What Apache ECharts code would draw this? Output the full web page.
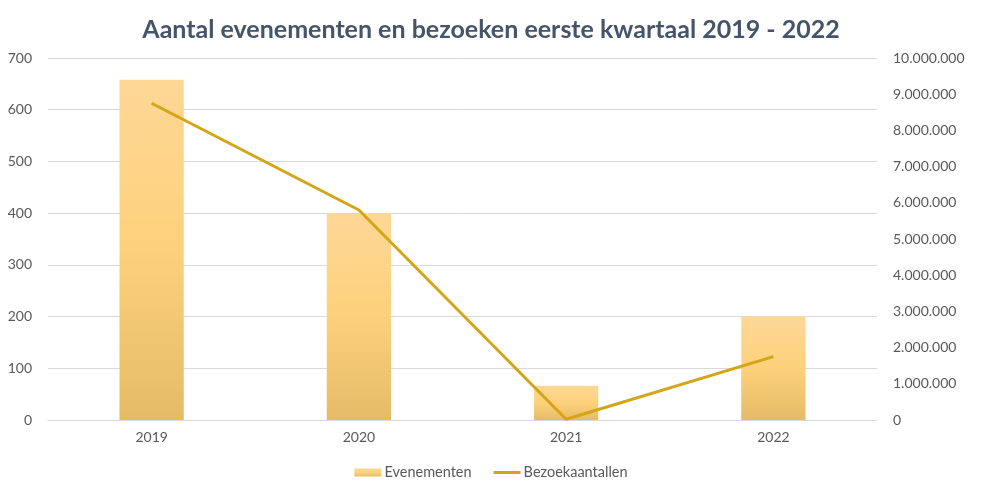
<!DOCTYPE html>
<html>
<head>
<meta charset="utf-8">
<script src="https://cdn.jsdelivr.net/npm/echarts@6/dist/echarts.min.js"></script>
<style>
html,body{margin:0;padding:0;background:#fff;}
#c{width:982px;height:494px;}
</style>
</head>
<body>
<div id="c"></div>
<script>
const title = 'Aantal evenementen en bezoeken eerste kwartaal 2019 - 2022';
const categories = ['2019', '2020', '2021', '2022'];
const evenementen = [658, 400, 66, 200];
const bezoekaantallen = [8750000, 5800000, 20000, 1750000];
const seriesNames = ['Evenementen', 'Bezoekaantallen'];

function fmtNL(v) {
  return String(Math.round(v)).replace(/\B(?=(\d{3})+(?!\d))/g, '.');
}

const chart = echarts.init(document.getElementById('c'), null, {renderer: 'canvas'});
const font = 'Lato, "Open Sans", sans-serif';
chart.setOption({
  animation: false,
  backgroundColor: '#ffffff',
  textStyle: {fontFamily: font},
  title: {
    text: title,
    left: 'center',
    top: 12,
    textStyle: {fontFamily: font, fontWeight: 'bold', fontSize: 25, color: '#44546a'}
  },
  legend: {
    bottom: 9,
    left: 'center',
    itemGap: 22,
    itemWidth: 27,
    itemHeight: 8,
    textStyle: {fontFamily: font, fontSize: 14.5, color: '#595959', padding: [0, 0, 0, -2]},
    data: [
      {name: seriesNames[0], icon: 'rect'},
      {name: seriesNames[1], icon: 'path://M0,0h27v3h-27z'}
    ]
  },
  grid: {left: 48, right: 105, top: 58, bottom: 74, containLabel: false},
  xAxis: {
    type: 'category',
    data: categories,
    axisLine: {lineStyle: {color: '#d9d9d9'}},
    axisTick: {show: false},
    axisLabel: {color: '#595959', fontSize: 14, margin: 10, fontFamily: font}
  },
  yAxis: [
    {
      type: 'value', min: 0, max: 700, interval: 100,
      axisLine: {show: false}, axisTick: {show: false},
      splitLine: {lineStyle: {color: '#d9d9d9'}},
      axisLabel: {color: '#595959', fontSize: 14, margin: 16, fontFamily: font}
    },
    {
      type: 'value', min: 0, max: 10000000, interval: 1000000,
      axisLine: {show: false}, axisTick: {show: false},
      splitLine: {show: false},
      axisLabel: {color: '#595959', fontSize: 14, margin: 16, fontFamily: font, formatter: fmtNL}
    }
  ],
  series: [
    {
      name: seriesNames[0],
      type: 'bar',
      data: evenementen,
      barWidth: '31%',
      itemStyle: {
        color: new echarts.graphic.LinearGradient(0, 0, 0, 1, [
          {offset: 0, color: '#fed796'},
          {offset: 0.5, color: '#fdd17b'},
          {offset: 1, color: '#e5bb67'}
        ])
      }
    },
    {
      name: seriesNames[1],
      type: 'line',
      yAxisIndex: 1,
      data: bezoekaantallen,
      symbol: 'none',
      lineStyle: {color: '#d4a516', width: 3},
      itemStyle: {color: '#d4a516'}
    }
  ]
});
</script>
</body>
</html>
